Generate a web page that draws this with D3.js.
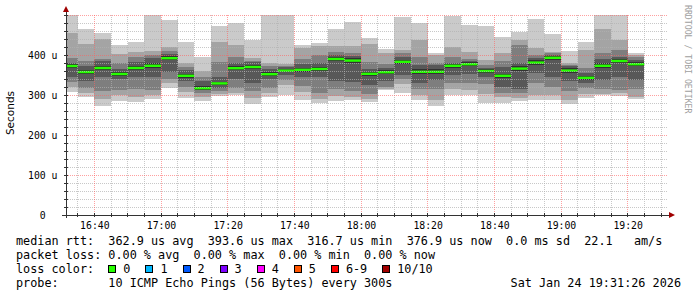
<!DOCTYPE html>
<html>
<head>
<meta charset="utf-8">
<script src="https://cdn.jsdelivr.net/npm/d3@7"></script>
<style>
  body { margin: 0; background: #fff; }
  text { font-family: "DejaVu Sans Mono", monospace; }
</style>
</head>
<body>
<script>
// 5 minute rounds, each bar ends at this time
const barEnds = ["16:35","16:40","16:45","16:50","16:55","17:00","17:05","17:10","17:15","17:20",
  "17:25","17:30","17:35","17:40","17:45","17:50","17:55","18:00","18:05","18:10",
  "18:15","18:20","18:25","18:30","18:35","18:40","18:45","18:50","18:55","19:00",
  "19:05","19:10","19:15","19:20","19:25"];

// median rtt per round, microseconds
const medians = [372.5,357.5,367.5,352.5,367.5,373,392,348,317,329,
  367,370,352,361,363,365,390,386,353,357,
  383,358,358,373,377,360,348,366,381,393,
  361,343,373,385,377];

// the 10 sorted pings of every round, microseconds
const pings = [
  [308,319,333,346,367,377,380,392,456,505],
  [295,305,318,335,352,363,372,385,428,465],
  [272,290,310,345,362,373,385,390,440,455],
  [285,300,312,340,348,357,366,379,402,425],
  [283,295,315,345,362,373,383,396,408,433],
  [289,300,312,345,367,379,392,400,410,505],
  [318,330,340,358,388,397,403,411,421,487],
  [293,308,320,335,343,352,362,371,381,433],
  [285,295,305,312,313,322,335,345,360,396],
  [297,302,310,318,325,333,345,383,433,473],
  [300,305,318,340,362,372,380,396,425,481],
  [277,293,310,330,365,375,382,385,393,437],
  [296,305,318,340,347,357,365,372,381,505],
  [300,325,337,350,357,365,370,373,378,505],
  [287,307,322,345,358,368,378,390,417,425],
  [279,290,305,345,360,370,380,400,422,429],
  [285,298,315,335,385,395,400,408,422,464],
  [287,295,310,333,380,392,398,406,422,482],
  [283,290,302,325,348,358,365,383,427,443],
  [312,316,320,335,352,362,368,377,404,414],
  [306,328,340,350,378,388,395,404,412,496],
  [287,300,316,330,352,364,375,395,437,481],
  [272,287,315,337,352,364,375,380,400,404],
  [300,315,330,350,368,378,380,396,421,497],
  [300,313,330,352,372,382,385,390,408,475],
  [281,303,328,345,355,365,367,375,387,472],
  [281,295,305,320,343,353,370,385,404,446],
  [286,293,305,315,360,372,380,425,437,458],
  [287,300,330,355,375,387,392,400,417,490],
  [287,300,320,345,388,398,400,405,408,452],
  [277,288,310,335,355,367,372,375,381,410],
  [292,302,318,330,338,348,355,367,412,433],
  [300,303,315,337,367,379,390,404,464,505],
  [298,305,313,345,380,390,395,412,437,505],
  [289,296,315,338,372,382,388,395,400,406]
];

const yTicks = [0, 100, 200, 300, 400];
const lossLabels = ["0","1","2","3","4","5","6-9","10/10"];
const lossColors = ["#26ff00","#00b8ff","#0059ff","#7e00ff","#ff00ff","#ff5500","#ff0000","#a10000"];
const smokeGreys = ["#cacaca","#a4a4a4","#7e7e7e","#585858","#323232"];

const legendLines = [
  "median rtt:  362.9 us avg  393.6 us max  316.7 us min  376.9 us now  0.0 ms sd  22.1   am/s",
  "packet loss: 0.00 % avg  0.00 % max  0.00 % min  0.00 % now",
  "loss color:",
  "probe:       10 ICMP Echo Pings (56 Bytes) every 300s"
];
const stamp = "Sat Jan 24 19:31:26 2026";

const width = 697, height = 297;
const pLeft = 66, pRight = 666, pTop = 15, pBottom = 215;
const cw = 7.1; // legend char width

const toDate = s => { const [h, m] = s.split(":").map(Number); return new Date(2026, 0, 24, h, m, 0); };
const start = new Date(2026, 0, 24, 16, 31, 30);
const end = new Date(2026, 0, 24, 19, 31, 30);

const x = d3.scaleTime().domain([start, end]).range([pLeft, pRight]);
const y = d3.scaleLinear().domain([0, 500]).range([pBottom, pTop]);

const svg = d3.select("body").append("svg")
  .attr("width", width).attr("height", height);

svg.append("rect").attr("width", width).attr("height", height).attr("fill", "#fff");

svg.append("clipPath").attr("id", "plot")
  .append("rect").attr("x", pLeft).attr("y", pTop).attr("width", pRight - pLeft).attr("height", pBottom - pTop);

// smoke
const rounds = barEnds.map((s, i) => {
  const e = toDate(s);
  const b = new Date(Math.max(+e - 300000, +start));
  return { b: b, e: e, p: pings[i], m: medians[i] };
});

const smoke = svg.append("g").attr("clip-path", "url(#plot)");
smokeGreys.forEach((c, k) => {
  smoke.append("g").selectAll("rect")
    .data(rounds)
    .enter().append("rect")
    .attr("x", d => x(d.b))
    .attr("width", d => x(d.e) - x(d.b))
    .attr("y", d => y(d.p[9 - k]))
    .attr("height", d => y(d.p[k]) - y(d.p[9 - k]))
    .attr("fill", c)
    .attr("shape-rendering", "crispEdges");
});

smoke.append("g").selectAll("rect")
  .data(rounds)
  .enter().append("rect")
  .attr("x", d => x(d.b))
  .attr("width", d => x(d.e) - x(d.b))
  .attr("y", d => y(d.m) - 1.2)
  .attr("height", 2.4)
  .attr("fill", lossColors[0]);

// grid
const grid = svg.append("g").attr("shape-rendering", "crispEdges");
const minorY = d3.range(20, 501, 20).filter(v => v % 100 != 0);
const majorY = d3.range(100, 501, 100);
const minorX = x.ticks(d3.timeMinute.every(5)).filter(t => t.getMinutes() % 20 != 0);
const majorX = x.ticks(d3.timeMinute.every(20));

grid.selectAll(".minh").data(minorY).enter().append("line")
  .attr("x1", pLeft).attr("x2", pRight + 2).attr("y1", d => y(d)).attr("y2", d => y(d))
  .attr("stroke", "#b0b0b0").attr("stroke-opacity", 0.7).attr("stroke-dasharray", "1,1");
grid.selectAll(".minv").data(minorX).enter().append("line")
  .attr("x1", d => x(d)).attr("x2", d => x(d)).attr("y1", pTop).attr("y2", pBottom)
  .attr("stroke", "#b0b0b0").attr("stroke-opacity", 0.7).attr("stroke-dasharray", "1,1");
grid.selectAll(".majh").data(majorY).enter().append("line")
  .attr("x1", pLeft).attr("x2", pRight + 2).attr("y1", d => y(d)).attr("y2", d => y(d))
  .attr("stroke", "#ff6060").attr("stroke-opacity", 0.6).attr("stroke-dasharray", "1,1");
grid.selectAll(".majv").data(majorX).enter().append("line")
  .attr("x1", d => x(d)).attr("x2", d => x(d)).attr("y1", pTop).attr("y2", pBottom)
  .attr("stroke", "#ff6060").attr("stroke-opacity", 0.6).attr("stroke-dasharray", "1,1");

// axes
const axisG = svg.append("g").attr("shape-rendering", "crispEdges");
axisG.append("line").attr("x1", pLeft).attr("x2", pLeft).attr("y1", pBottom + 3).attr("y2", 11)
  .attr("stroke", "#333");
axisG.append("line").attr("x1", pLeft - 4).attr("x2", pRight + 4).attr("y1", pBottom).attr("y2", pBottom)
  .attr("stroke", "#333");
axisG.selectAll(".ty").data(minorY.concat(majorY)).enter().append("line")
  .attr("x1", pLeft - 2).attr("x2", pLeft + 2).attr("y1", d => y(d)).attr("y2", d => y(d))
  .attr("stroke", "#333");
axisG.selectAll(".tx").data(minorX.concat(majorX)).enter().append("line")
  .attr("x1", d => x(d)).attr("x2", d => x(d)).attr("y1", pBottom - 2).attr("y2", pBottom + 2)
  .attr("stroke", "#333");

svg.append("path").attr("d", `M${pLeft - 3},12 L${pLeft + 3},12 L${pLeft},6 Z`).attr("fill", "#a00000");
svg.append("path").attr("d", `M${pRight + 3},${pBottom - 3} L${pRight + 3},${pBottom + 3} L${pRight + 9},${pBottom} Z`).attr("fill", "#a00000");

const xAxis = svg.append("g")
  .attr("transform", `translate(0,${pBottom})`)
  .call(d3.axisBottom(x).tickValues(majorX).tickSize(0).tickPadding(7).tickFormat(d3.timeFormat("%H:%M")));
xAxis.select(".domain").remove();
xAxis.selectAll("text").attr("font-family", "DejaVu Sans Mono").attr("font-size", "9.8px").attr("fill", "#000");

const yAxis = svg.append("g")
  .attr("transform", `translate(${pLeft},0)`)
  .call(d3.axisLeft(y).tickValues(yTicks).tickSize(0).tickPadding(8.5).tickFormat(d => d ? d + " u" : "0"));
yAxis.select(".domain").remove();
yAxis.selectAll("text").attr("font-family", "DejaVu Sans Mono").attr("font-size", "9.8px").attr("fill", "#000")
  .attr("dx", d => d ? 0 : -11.8);

svg.append("text")
  .attr("transform", `translate(14,${(pTop + pBottom) / 2 - 2}) rotate(-90)`)
  .attr("text-anchor", "middle")
  .style("font-family", "DejaVu Sans")
  .style("font-size", "10.5px")
  .text("Seconds");

svg.append("text")
  .attr("transform", "translate(685,5) rotate(90)")
  .style("font-size", "8.2px")
  .attr("fill", "#a0a0a0")
  .text("RRDTOOL / TOBI OETIKER");

// legend
const legend = svg.append("g").style("font-size", "11.8px");
legendLines.forEach((t, i) => {
  legend.append("text")
    .attr("x", 16).attr("y", 245 + i * 14)
    .attr("xml:space", "preserve")
    .style("white-space", "pre")
    .text(t);
});

let lx = 16 + 13 * cw;
lossLabels.forEach((l, i) => {
  legend.append("rect")
    .attr("x", lx + 0.5).attr("y", 265.5).attr("width", 7).attr("height", 7)
    .attr("fill", lossColors[i]).attr("stroke", "#000").attr("stroke-width", 1)
    .attr("shape-rendering", "crispEdges");
  legend.append("text").attr("x", lx + 15).attr("y", 273).text(l);
  lx += 15 + l.length * cw + 15;
});

legend.append("text")
  .attr("x", 681).attr("y", 287)
  .attr("text-anchor", "end")
  .text(stamp);
</script>
</body>
</html>
